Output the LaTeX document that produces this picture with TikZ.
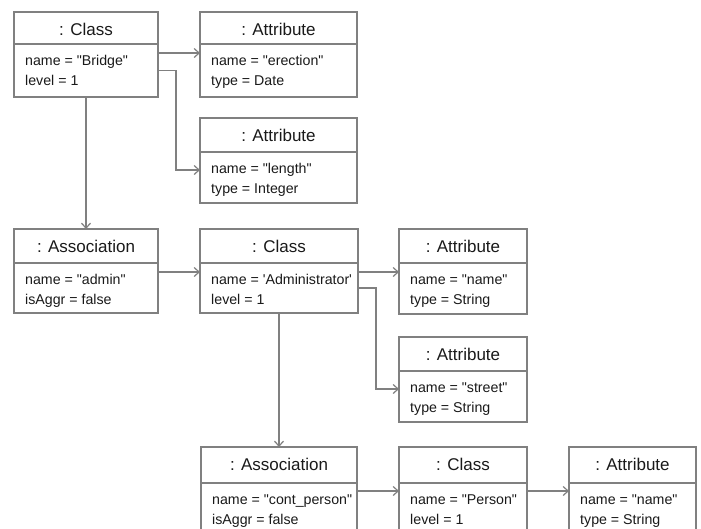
\documentclass[tikz,border=0pt]{standalone}
\usepackage{fontspec}
\setmainfont{Liberation Sans}[Ligatures=TeXOff]
\usetikzlibrary{arrows.meta,calc}
\definecolor{linegray}{HTML}{808080}
\definecolor{txt}{HTML}{1A1A1A}
\tikzset{
  objpart/.style={draw=linegray, line width=1.1pt, inner sep=0pt, outer sep=0pt, rectangle},
  headtxt/.style={inner sep=0pt, anchor=base, font=\fontsize{17}{19}\selectfont, text=txt},
  bodytxt/.style={inner sep=0pt, anchor=base west, font=\fontsize{14.2}{16}\selectfont, text=txt},
  conn/.style={draw=linegray, line width=1.1pt, -{Straight Barb[length=5pt,width=9pt,line width=1.2pt]}}
}
% #1 name, #2 left, #3 top, #4 width, #5 header height, #6 body height, #7 header, #8 line1, #9 line2
\newcommand{\umlobj}[9]{%
  \node[objpart, anchor=north west, minimum width=#4pt, minimum height=#5pt] (#1h) at (#2,#3) {};
  \node[objpart, anchor=north west, minimum width=#4pt, minimum height=#6pt] (#1) at (#1h.south west) {};
  \node[headtxt] (#1t) at ([yshift=-23pt]#1h.north) {#7};
  \node[bodytxt] (#1a) at ([xshift=11pt,yshift=-21pt]#1.north west) {#8};
  \node[bodytxt] (#1b) at ([xshift=11pt,yshift=-41pt]#1.north west) {#9};
}
\begin{document}
\begin{tikzpicture}[x=1pt,y=-1pt]
\useasboundingbox (0,0) rectangle (701,528);
\clip (0,0) rectangle (701,528);
\fill[white] (0,0) rectangle (701,528);
\umlobj{bridge}{14}{12}{144}{32}{53}{: Class}{name = "Bridge"}{level = 1}
\umlobj{erect}{200}{12}{157}{32}{53}{: Attribute}{name = "erection"}{type = Date}
\umlobj{length}{200}{118}{157}{34}{51}{: Attribute}{name = "length"}{type = Integer}
\umlobj{admin}{14}{229}{144}{34}{50}{: Association}{name = "admin"}{isAggr = false}
\umlobj{adm}{200}{229}{158}{34}{50}{: Class}{name = 'Administrator'}{level = 1}
\umlobj{nameA}{399}{229}{128}{34}{51}{: Attribute}{name = "name"}{type = String}
\umlobj{street}{399}{337}{128}{34}{51}{: Attribute}{name = "street"}{type = String}
\umlobj{cont}{201}{447}{156}{36}{52}{: Association}{name = "cont\_person"}{isAggr = false}
\umlobj{person}{399}{447}{128}{36}{52}{: Class}{name = "Person"}{level = 1}
\umlobj{nameB}{569}{447}{127}{36}{52}{: Attribute}{name = "name"}{type = String}

\draw[conn] ([yshift=-9pt]bridge.north east) -- ([yshift=-9pt]erect.north west);
\draw[conn] (bridge.east) -- ++(18,0) |- ([yshift=-18pt]length.north west);
\draw[conn] (bridge.south) -- (adminh.north);
\draw[conn] ([yshift=-9pt]admin.north east) -- ([yshift=-9pt]adm.north west);
\draw[conn] ([yshift=-9pt]adm.north east) -- ([yshift=-9pt]nameA.north west);
\draw[conn] (adm.east) -- ++(18,0) |- ([yshift=-18pt]street.north west);
\draw[conn] (adm.south) -- (conth.north);
\draw[conn] ([yshift=-8pt]cont.north east) -- ([yshift=-8pt]person.north west);
\draw[conn] ([yshift=-8pt]person.north east) -- ([yshift=-8pt]nameB.north west);
\end{tikzpicture}
\end{document}
